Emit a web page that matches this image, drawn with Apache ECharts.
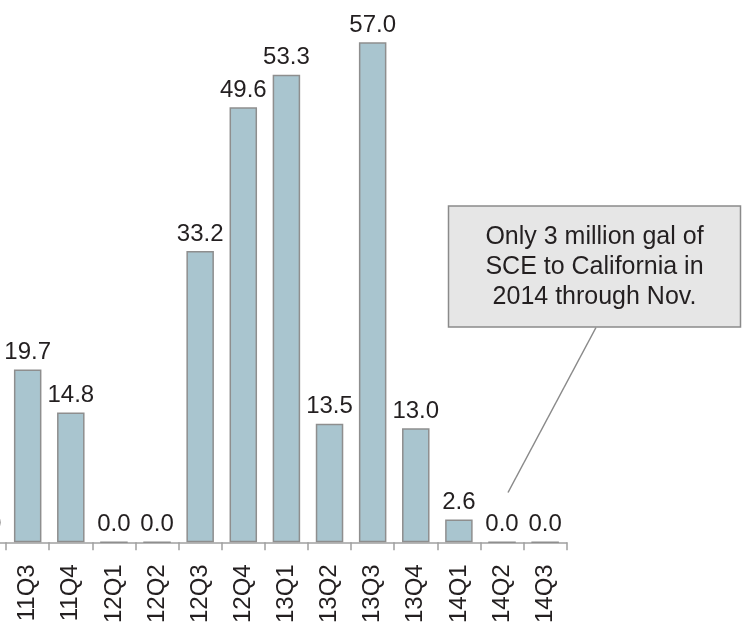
<!DOCTYPE html>
<html>
<head>
<meta charset="utf-8">
<script src="https://cdn.jsdelivr.net/npm/echarts@6/dist/echarts.min.js"></script>
<style>
  html, body { margin: 0; padding: 0; background: #fff; overflow: hidden; width: 742px; height: 626px; position: relative; }
  /* the plot starts one quarter earlier than the visible area */
  #chart { position: absolute; left: -37px; top: 0; width: 779px; height: 626px; }
</style>
</head>
<body>
<div id="chart"></div>
<script>
// Quarterly SCE shipments to California (million gallons)
const quarters = ['11Q2', '11Q3', '11Q4', '12Q1', '12Q2', '12Q3', '12Q4',
                  '13Q1', '13Q2', '13Q3', '13Q4', '14Q1', '14Q2', '14Q3'];
const volumes  = [0.0, 19.7, 14.8, 0.0, 0.0, 33.2, 49.6,
                  53.3, 13.5, 57.0, 13.0, 2.6, 0.0, 0.0];
const noteLines = ['Only 3 million gal of', 'SCE to California in', '2014 through Nov.'];

const FONT = '"Liberation Sans", Arial, Helvetica, sans-serif';
const SHIFT = 37; // horizontal offset of the chart container
const chart = echarts.init(document.getElementById('chart'));

chart.setOption({
  animation: false,
  backgroundColor: '#ffffff',
  grid: { left: 0, right: 175.3, top: 16, bottom: 82.5, containLabel: false },
  xAxis: {
    type: 'category',
    data: quarters,
    axisLine: { lineStyle: { color: '#a0a0a0', width: 1.5 } },
    axisTick: { show: true, length: 8, lineStyle: { color: '#a0a0a0', width: 1.5 } },
    axisLabel: {
      interval: 0, rotate: 90, margin: 22,
      fontFamily: FONT, fontSize: 24, color: '#231f20'
    }
  },
  yAxis: {
    type: 'value', min: 0, max: 60, show: false,
    splitLine: { show: false }
  },
  series: [{
    type: 'bar',
    data: volumes,
    barWidth: 27.5,
    itemStyle: { color: '#a9c5cf', borderColor: '#8e8e8e', borderWidth: 1.5 },
    label: {
      show: true, position: 'top', distance: 5,
      fontFamily: FONT, fontSize: 24, color: '#231f20',
      formatter: p => p.value.toFixed(1)
    }
  }],
  graphic: [
    {
      type: 'line',
      shape: { x1: 596 + SHIFT, y1: 327.5, x2: 508 + SHIFT, y2: 492.5 },
      style: { stroke: '#8a8a8a', lineWidth: 1.5 },
      z: 10
    },
    {
      type: 'rect',
      shape: { x: 448.5 + SHIFT, y: 206, width: 292, height: 121 },
      style: { fill: '#e6e6e6', stroke: '#8a8a8a', lineWidth: 1.5 },
      z: 11
    },
    {
      type: 'text',
      x: 594.5 + SHIFT, y: 267,
      style: {
        text: noteLines.join('\n'),
        font: '25px ' + FONT,
        fill: '#231f20',
        align: 'center',
        verticalAlign: 'middle',
        lineHeight: 29.7
      },
      z: 12
    }
  ]
});
</script>
</body>
</html>
